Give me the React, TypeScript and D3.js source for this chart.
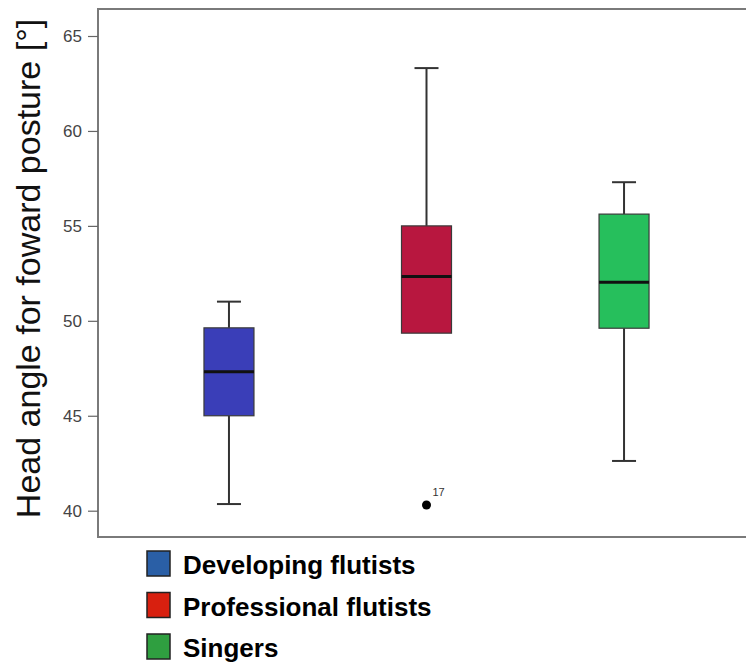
import React, { useEffect, useRef } from 'react';
import * as d3 from 'd3';

const groups = ['Developing flutists', 'Professional flutists', 'Singers'];
const whiskerLow = [40.35, 49.35, 42.62];
const q1 = [45.0, 49.35, 49.61];
const median = [47.32, 52.33, 52.03];
const q3 = [49.63, 55.0, 55.62];
const whiskerHigh = [51.01, 63.31, 57.3];
const outliers = [{ group: 'Professional flutists', value: 40.3, label: '17' }];
const yTicks = [40, 45, 50, 55, 60, 65];

const boxColors = ['#3a3eb8', '#b8173f', '#26bf5c'];
const legendColors = ['#2a5fa6', '#d8200f', '#2f9f40'];

const App: React.FC = () => {
  const svgRef = useRef<SVGSVGElement>(null);

  useEffect(() => {
    document.body.style.margin = '0';
    if (!svgRef.current) return;

    const W = 746;
    const H = 664;
    const left = 98;
    const top = 9;
    const bottom = 537;

    const svg = d3.select(svgRef.current);
    svg.selectAll('*').remove();
    svg.attr('width', W).attr('height', H);

    const x = d3.scalePoint<string>().domain(groups).range([left, 755]).padding(0.663);
    const y = d3.scaleLinear().domain([40, 65]).range([510.7, 36]);

    const boxW = 50;
    const capW = 24;

    // frame (right side runs off the picture)
    svg.append('path')
      .attr('d', `M${W + 2},${top}H${left}V${bottom}H${W + 2}`)
      .attr('fill', 'none')
      .attr('stroke', '#7a7a7a')
      .attr('stroke-width', 2);

    // y axis
    const axis = svg.append('g')
      .attr('transform', `translate(${left},0)`)
      .call(d3.axisLeft(y).tickValues(yTicks).tickSize(10).tickPadding(6));
    axis.select('.domain').remove();
    axis.selectAll('.tick line').attr('stroke', '#666').attr('stroke-width', 1.2);
    axis.selectAll('.tick text')
      .attr('fill', '#444')
      .style('font-family', 'Liberation Sans, Arial, sans-serif')
      .style('font-size', '17px');

    svg.append('text')
      .attr('transform', `translate(40,${(15 + 522) / 2}) rotate(-90)`)
      .attr('text-anchor', 'middle')
      .style('font-family', 'Liberation Sans, Arial, sans-serif')
      .style('font-size', '34px')
      .attr('fill', '#111')
      .text('Head angle for foward posture [°]');

    const g = svg.append('g');
    groups.forEach((name, i) => {
      const cx = x(name) || 0;
      const grp = g.append('g');
      // whiskers
      grp.append('line')
        .attr('x1', cx).attr('x2', cx)
        .attr('y1', y(whiskerHigh[i])).attr('y2', y(q3[i]))
        .attr('stroke', '#333').attr('stroke-width', 2);
      grp.append('line')
        .attr('x1', cx).attr('x2', cx)
        .attr('y1', y(q1[i])).attr('y2', y(whiskerLow[i]))
        .attr('stroke', '#333').attr('stroke-width', 2);
      grp.append('line')
        .attr('x1', cx - capW / 2).attr('x2', cx + capW / 2)
        .attr('y1', y(whiskerHigh[i])).attr('y2', y(whiskerHigh[i]))
        .attr('stroke', '#333').attr('stroke-width', 2);
      if (whiskerLow[i] < q1[i]) {
        grp.append('line')
          .attr('x1', cx - capW / 2).attr('x2', cx + capW / 2)
          .attr('y1', y(whiskerLow[i])).attr('y2', y(whiskerLow[i]))
          .attr('stroke', '#333').attr('stroke-width', 2);
      }
      // box
      grp.append('rect')
        .attr('x', cx - boxW / 2)
        .attr('y', y(q3[i]))
        .attr('width', boxW)
        .attr('height', y(q1[i]) - y(q3[i]))
        .attr('fill', boxColors[i])
        .attr('stroke', '#3a3a3a')
        .attr('stroke-width', 1.2);
      grp.append('line')
        .attr('x1', cx - boxW / 2).attr('x2', cx + boxW / 2)
        .attr('y1', y(median[i])).attr('y2', y(median[i]))
        .attr('stroke', '#111').attr('stroke-width', 3);
    });

    outliers.forEach(o => {
      const cx = x(o.group) || 0;
      g.append('circle')
        .attr('cx', cx).attr('cy', y(o.value)).attr('r', 4.5)
        .attr('fill', '#000');
      g.append('text')
        .attr('x', cx + 6).attr('y', y(o.value) - 9)
        .style('font-family', 'Liberation Sans, Arial, sans-serif')
        .style('font-size', '11px')
        .attr('fill', '#333')
        .text(o.label);
    });

    // legend
    const legend = svg.append('g').attr('transform', 'translate(147,551)');
    groups.forEach((name, i) => {
      const row = legend.append('g').attr('transform', `translate(0,${i * 41.5})`);
      row.append('rect')
        .attr('width', 23).attr('height', 25)
        .attr('fill', legendColors[i])
        .attr('stroke', '#222').attr('stroke-width', 1.5);
      row.append('text')
        .attr('x', 36).attr('y', 23)
        .style('font-family', 'Liberation Sans, Arial, sans-serif')
        .style('font-size', '26px')
        .style('font-weight', 'bold')
        .attr('fill', '#000')
        .text(name);
    });
  }, []);

  return <svg ref={svgRef} style={{ display: 'block' }}></svg>;
};

export default App;
